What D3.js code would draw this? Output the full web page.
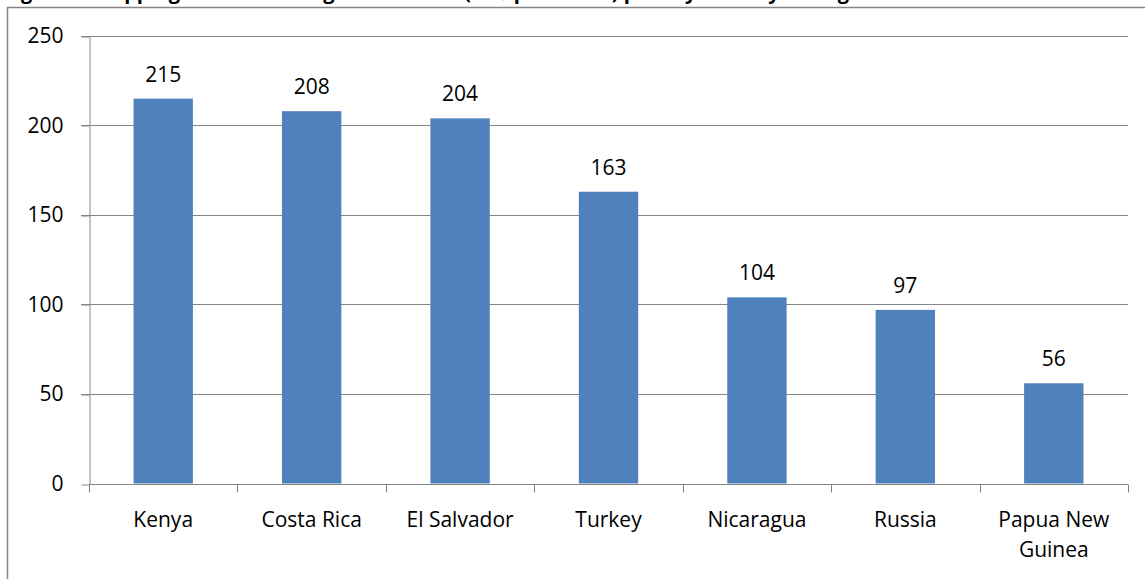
<!DOCTYPE html>
<html>
<head>
<meta charset="utf-8">
<script src="https://cdn.jsdelivr.net/npm/d3@7"></script>
<style>
  html, body { margin: 0; padding: 0; background: #fff; overflow: hidden; }
  svg { display: block; }
  text { font-family: "Open Sans", "Noto Sans", sans-serif; }
</style>
</head>
<body>
<svg id="chart" width="1145" height="579"></svg>
<script>
const categories = ["Kenya", "Costa Rica", "El Salvador", "Turkey", "Nicaragua", "Russia", "Papua New Guinea"];
const values = [215, 208, 204, 163, 104, 97, 56];
const yTicks = [0, 50, 100, 150, 200, 250];
const titleText = "Figure 3: Shipping costs from origin to market (US$ per tonne) paid by country of origin";

const svg = d3.select("#chart");
const W = 1145, H = 579;
const plot = { left: 89, right: 1128, top: 36, bottom: 483.5 };
const gridColor = "#868686";
const fs = 21;

// title (cropped at the top, as in the reference)
svg.append("text")
  .attr("x", 4).attr("y", -1)
  .attr("font-size", 20).attr("font-weight", "bold")
  .attr("fill", "#000")
  .text(titleText);

// chart area border
svg.append("path")
  .attr("d", `M7.5,${H + 1} V7.5 H${W + 1}`)
  .attr("fill", "none").attr("stroke", gridColor).attr("stroke-width", 1.5);

const x = d3.scaleBand().domain(categories).range([plot.left, plot.right]).paddingInner(0.6).paddingOuter(0.3);
const xBand = d3.scaleBand().domain(categories).range([plot.left, plot.right]);
const y = d3.scaleLinear().domain([0, 250]).range([plot.bottom, plot.top]);

// gridlines
svg.append("g").selectAll("line").data(yTicks.filter(d => d > 0)).join("line")
  .attr("x1", plot.left - 8).attr("x2", plot.right)
  .attr("y1", d => Math.round(y(d)) + 0.5).attr("y2", d => Math.round(y(d)) + 0.5)
  .attr("stroke", gridColor).attr("stroke-width", 1);

// y axis
const yAxis = svg.append("g")
  .attr("transform", `translate(${plot.left + 0.5},0)`)
  .call(d3.axisLeft(y).tickValues(yTicks).tickSize(8).tickPadding(18).tickSizeOuter(0));
yAxis.select(".domain").attr("stroke", gridColor);
yAxis.selectAll(".tick line").attr("stroke", gridColor)
  .attr("transform", d => `translate(0,${Math.round(y(d)) + 0.5 - y(d)})`);
yAxis.selectAll(".tick text").attr("font-size", fs).attr("fill", "#000")
  .attr("font-family", "'Open Sans', sans-serif");

// bars
svg.append("g").selectAll("rect").data(values).join("rect")
  .attr("x", (d, i) => x(categories[i]))
  .attr("width", x.bandwidth())
  .attr("y", d => y(d))
  .attr("height", d => y(0) - y(d))
  .attr("fill", "#4f81bd");

// x axis
const xAxisY = Math.round(y(0)) + 0.5;
svg.append("line")
  .attr("x1", plot.left).attr("x2", plot.right)
  .attr("y1", xAxisY).attr("y2", xAxisY)
  .attr("stroke", gridColor);
const bounds = categories.map(c => xBand(c)).concat([plot.right]);
svg.append("g").selectAll("line").data(bounds).join("line")
  .attr("x1", d => Math.round(d) + 0.5).attr("x2", d => Math.round(d) + 0.5)
  .attr("y1", xAxisY).attr("y2", xAxisY + 8)
  .attr("stroke", gridColor);

// category labels (with wrapping)
const wrap = { "Papua New Guinea": ["Papua New", "Guinea"] };
const catG = svg.append("g");
categories.forEach(c => {
  const lines = wrap[c] || [c];
  const t = catG.append("text")
    .attr("text-anchor", "middle")
    .attr("font-size", fs).attr("fill", "#000");
  lines.forEach((ln, k) => {
    t.append("tspan").attr("x", xBand(c) + xBand.bandwidth() / 2)
      .attr("y", 527 + k * 30).text(ln);
  });
});

// value labels
svg.append("g").selectAll("text").data(values).join("text")
  .attr("x", (d, i) => x(categories[i]) + x.bandwidth() / 2)
  .attr("y", d => y(d) - 17)
  .attr("text-anchor", "middle")
  .attr("font-size", fs).attr("fill", "#000")
  .text(d => d);
</script>
</body>
</html>
